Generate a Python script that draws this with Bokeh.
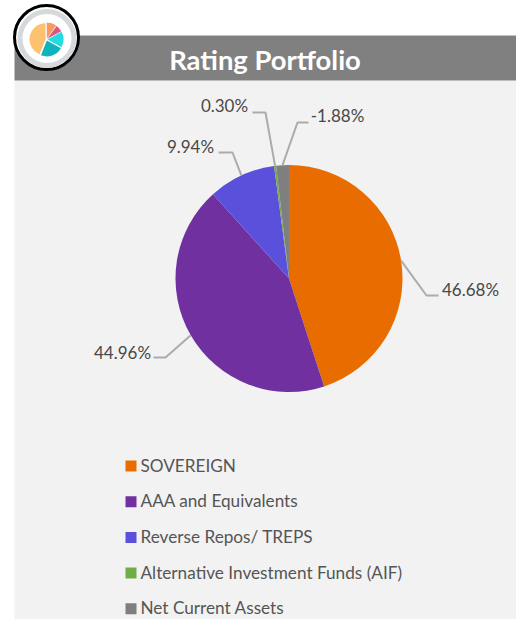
import math
from bokeh.plotting import figure
from bokeh.models import Range1d
from bokeh.core.properties import value
from bokeh.embed import file_html
from bokeh.resources import INLINE

title = "Rating Portfolio"
categories = ["SOVEREIGN", "AAA and Equivalents", "Reverse Repos/ TREPS", "Alternative Investment Funds (AIF)", "Net Current Assets"]
values = [46.68, 44.96, 9.94, 0.30, -1.88]
colors = ["#E96C00", "#7030A0", "#5A50DC", "#70AD47", "#7F7F7F"]
icon_shares = [10, 7, 16, 23, 44]
icon_colors = ["#F79A62", "#DF5580", "#25DBE3", "#0DB3BD", "#FDC16F"]

W, H = 516, 619
FONT = "Lato"
TXT = "#484848"
def X(px): return px
def Y(py): return H - py

p = figure(width=W, height=H, output_backend="svg", toolbar_location=None,
           x_range=Range1d(0, W), y_range=Range1d(0, H), min_border=0,
           outline_line_color=None, background_fill_color="white", border_fill_color="white")
p.xaxis.visible = False
p.yaxis.visible = False
p.grid.visible = False

# panel and title band
p.quad(left=[X(14)], right=[X(516)], top=[Y(80)], bottom=[0], fill_color="#F2F2F2", line_color=None)
p.quad(left=[X(14)], right=[X(516)], top=[Y(35)], bottom=[Y(80)], fill_color="#808080", line_color=None)
p.text(x=[X(264.5)], y=[Y(59)], text=[title], text_font=value(FONT), text_font_style="bold",
       text_font_size="27.4px", text_color="white", text_align="center", text_baseline="middle")

# pie, clockwise from the top; slice size uses the magnitude of each value
cx, cy, r = X(288.5), Y(278), 113.5
total = sum(abs(v) for v in values)
a = math.pi / 2
mids = []
for v, c in zip(values, colors):
    s = abs(v) / total * 2 * math.pi
    p.wedge(x=[cx], y=[cy], radius=r, start_angle=a - s, end_angle=a, fill_color=c, line_color=None)
    mids.append(a - s / 2)
    a -= s

# leader lines and labels: elbow x, elbow y, end x, label centre x, label centre y
layout = [
    (426, 295, 438, 470, 289),
    (165, 357, 153, 122, 352),
    (232, 152, 218, 190, 146),
    (265, 112, 252, 224, 105),
    (297, 122, 308, 337, 115),
]
for v, m, (ex, ey, tx, lx, ly) in zip(values, mids, layout):
    sx, sy = cx + r * math.cos(m), cy + r * math.sin(m)
    p.line(x=[sx, X(ex), X(tx)], y=[sy, Y(ey), Y(ey)], line_color="#ABABAB", line_width=2)
    p.text(x=[X(lx)], y=[Y(ly)], text=[f"{v:.2f}%"], text_font=value(FONT), text_font_size="17px",
           text_color=TXT, text_align="center", text_baseline="middle")

# legend
for i, (n, c) in enumerate(zip(categories, colors)):
    py = 465.5 + i * 35.7
    p.quad(left=[X(125)], right=[X(136)], top=[Y(py - 5.5)], bottom=[Y(py + 5.5)], fill_color=c, line_color=None)
    p.text(x=[X(140)], y=[Y(py - 1)], text=[n], text_font=value(FONT), text_font_size="17.2px",
           text_color="#555555", text_align="left", text_baseline="middle")

# icon
p.circle(x=[X(46)], y=[Y(37)], radius=32, fill_color="white", line_color="black", line_width=3)
p.circle(x=[X(46.5)], y=[Y(38)], radius=27, fill_color="white", line_color="#D6D9DC", line_width=5)
ix, iy = X(46), Y(39)
a = math.pi / 2
for v, c in zip(icon_shares, icon_colors):
    s = v / sum(icon_shares) * 2 * math.pi
    m = a - s / 2
    gap = 1.0
    p.wedge(x=[ix + gap * math.cos(m)], y=[iy + gap * math.sin(m)], radius=16, start_angle=a - s, end_angle=a,
            fill_color=c, line_color=None)
    a -= s

open("out.html", "w").write(file_html(p, INLINE))
